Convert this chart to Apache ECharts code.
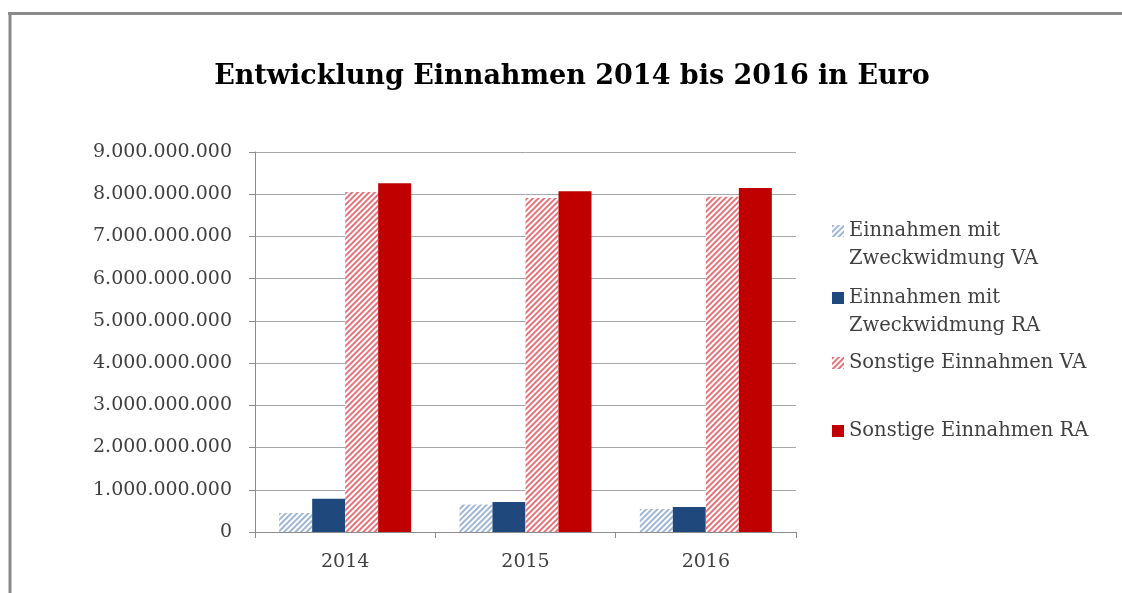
<!DOCTYPE html>
<html>
<head>
<meta charset="utf-8">
<title>Entwicklung Einnahmen</title>
<script src="https://cdn.jsdelivr.net/npm/echarts@6/dist/echarts.min.js"></script>
<style>
  html, body { margin: 0; padding: 0; background: #fff; }
  #main { width: 1122px; height: 593px; }
</style>
</head>
<body>
<div id="main"></div>
<script>
'use strict';
// Daten (Euro)
var years = ['2014', '2015', '2016'];
var seriesNames = [
  'Einnahmen mit Zweckwidmung VA',
  'Einnahmen mit Zweckwidmung RA',
  'Sonstige Einnahmen VA',
  'Sonstige Einnahmen RA'
];
var zweckVA = [450000000, 650000000, 545000000];
var zweckRA = [790000000, 710000000, 590000000];
var sonstVA = [8050000000, 7910000000, 7940000000];
var sonstRA = [8260000000, 8070000000, 8150000000];
var yTicks = { min: 0, max: 9000000000, step: 1000000000 };

var FONT = 'DejaVu Serif';
var TXT = '#404040';

function fmt(v) {
  return String(v).replace(/\B(?=(\d{3})+(?!\d))/g, '.');
}

// schraffur wie im excel
function hatch(col) {
  return {
    symbol: 'rect',
    symbolSize: 1,
    color: col,
    dashArrayX: [1, 0],
    dashArrayY: [1.3, 1.9],
    rotation: -Math.PI / 4
  };
}

var chart = echarts.init(document.getElementById('main'));

// je legende ein eintrag, damit das icon auf der ersten zeile sitzt
var legendTops = [189, 256, 349, 417];
var legends = seriesNames.map(function (name, i) {
  var twoLines = i < 2;
  return {
    orient: 'vertical',
    left: 832,
    top: legendTops[i],
    padding: 0,
    itemWidth: 12,
    itemHeight: 12,
    icon: 'rect',
    data: [name],
    formatter: function (n) {
      // leere erste zeile -> icon mittig auf "Einnahmen mit"
      return twoLines ? '\n' + n.replace(' Zweckwidmung', '\nZweckwidmung') : n;
    },
    textStyle: {
      fontFamily: FONT,
      fontSize: 19.5,
      color: TXT,
      lineHeight: 28
    }
  };
});

var option = {
  backgroundColor: '#fff',
  animation: false,
  title: {
    text: 'Entwicklung Einnahmen 2014 bis 2016 in Euro',
    left: 567,
    textAlign: 'center',
    top: 58,
    textStyle: { fontFamily: FONT, fontWeight: 'bold', fontSize: 27, color: '#000' }
  },
  legend: legends,
  grid: { left: 255, right: 326, top: 152, bottom: 61 },
  xAxis: {
    type: 'category',
    data: years,
    axisLine: { lineStyle: { color: '#8c8c8c', width: 1 } },
    axisTick: { show: true, length: 6, lineStyle: { color: '#8c8c8c' } },
    axisLabel: { fontFamily: FONT, fontSize: 19, color: TXT, margin: 21 }
  },
  yAxis: {
    type: 'value',
    min: yTicks.min,
    max: yTicks.max,
    interval: yTicks.step,
    axisLine: { show: true, lineStyle: { color: '#8c8c8c', width: 1 } },
    axisTick: { show: true, length: 6, lineStyle: { color: '#8c8c8c' } },
    splitLine: { lineStyle: { color: '#a6a6a6', width: 1 } },
    axisLabel: { fontFamily: FONT, fontSize: 19, color: TXT, margin: 23, formatter: fmt }
  },
  series: [
    {
      name: seriesNames[0], type: 'bar', data: zweckVA, barWidth: 33, barGap: '0%',
      itemStyle: { color: '#ffffff', decal: hatch('#9fb6d6') }
    },
    {
      name: seriesNames[1], type: 'bar', data: zweckRA, barWidth: 33, barGap: '0%',
      itemStyle: { color: '#1f497d' }
    },
    {
      name: seriesNames[2], type: 'bar', data: sonstVA, barWidth: 33, barGap: '0%',
      itemStyle: { color: '#ffffff', decal: hatch('#e6737a') }
    },
    {
      name: seriesNames[3], type: 'bar', data: sonstRA, barWidth: 33, barGap: '0%',
      itemStyle: { color: '#c00000' }
    }
  ],
  graphic: [
    // rahmen oben + links
    { type: 'line', shape: { x1: 8, y1: 13.5, x2: 1122, y2: 13.5 }, style: { stroke: '#8a8a8a', lineWidth: 3 }, silent: true },
    { type: 'line', shape: { x1: 10, y1: 12, x2: 10, y2: 593 }, style: { stroke: '#8a8a8a', lineWidth: 3 }, silent: true }
  ]
};
chart.setOption(option);
</script>
</body>
</html>
